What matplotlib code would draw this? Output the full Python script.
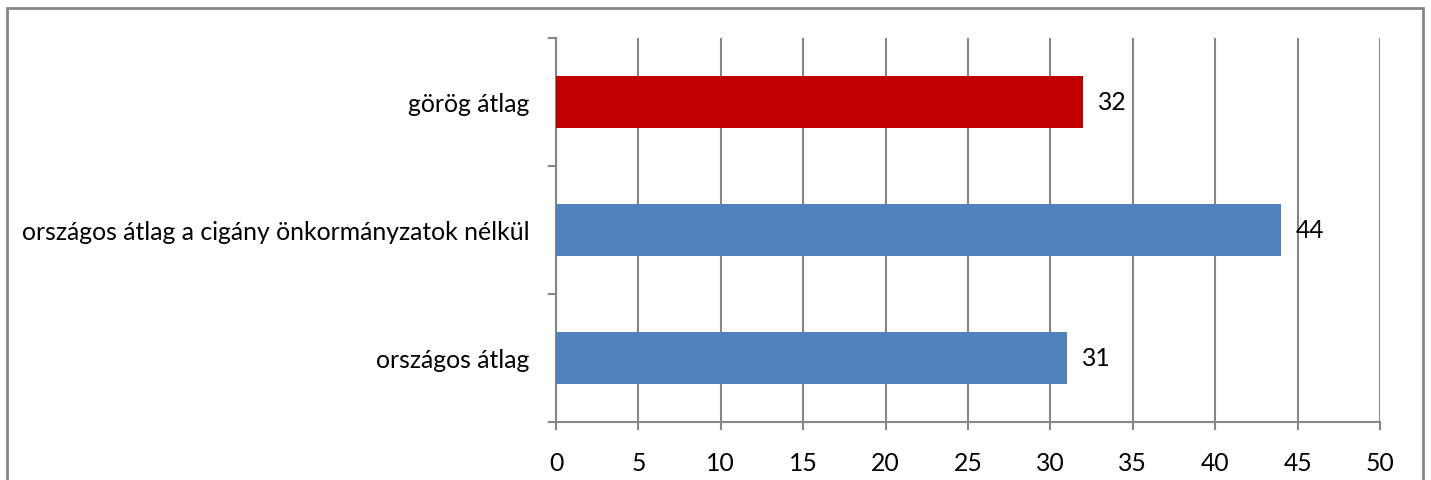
import matplotlib.pyplot as plt
from matplotlib.patches import Rectangle

categories = ['országos átlag', 'országos átlag a cigány önkormányzatok nélkül', 'görög átlag']
values = [31, 44, 32]
bar_colors = ['#4F81BD', '#4F81BD', '#C00000']
x_ticks = [0, 5, 10, 15, 20, 25, 30, 35, 40, 45, 50]

plt.rcParams['font.family'] = ['Lato', 'DejaVu Sans']
grid_col = '#868686'
fs = 17.8

fig = plt.figure(figsize=(14.31, 4.81), dpi=100)
ax = fig.add_axes([556 / 1431, 1 - 422.7 / 481, (1380 - 556) / 1431, (422.7 - 39) / 481])

pos = list(range(len(categories)))
ax.barh(pos, values, height=0.41, color=bar_colors, zorder=3)
for p, v in zip(pos, values):
    ax.text(v + 0.9, p, str(v), va='center', ha='left', fontsize=fs, color='black')

ax.set_xlim(0, 50)
ax.set_ylim(-0.5, 2.5)
ax.set_xticks(x_ticks)
ax.set_xticklabels([str(t) for t in x_ticks], fontsize=fs)
ax.set_yticks(pos)
ax.set_yticklabels(categories, fontsize=fs)
ax.tick_params(axis='y', length=0, pad=19)
ax.tick_params(axis='x', length=6, width=1.5, color=grid_col, pad=15)
ax.set_yticks([-0.5, 0.5, 1.5, 2.5], minor=True)
ax.tick_params(axis='y', which='minor', length=6, width=1.5, color=grid_col)

ax.grid(axis='x', color=grid_col, linewidth=1.5, zorder=0)
for s in ['top', 'right']:
    ax.spines[s].set_visible(False)
for s in ['left', 'bottom']:
    ax.spines[s].set_color(grid_col)
    ax.spines[s].set_linewidth(1.5)

# outer chart border
fig.patches.append(Rectangle((7 / 1431, -0.1), (1423 - 7) / 1431, 1.1 - 9 / 481,
                             transform=fig.transFigure, fill=False,
                             edgecolor='#868686', linewidth=2))

fig.savefig('out.png', dpi=100)
